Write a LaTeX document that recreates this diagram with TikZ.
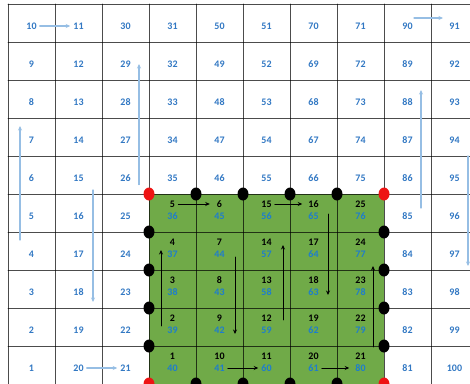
\documentclass[tikz,border=0pt]{standalone}
\usepackage{fontspec}
\setmainfont{Carlito}
\usetikzlibrary{arrows.meta}
\definecolor{cellgreen}{RGB}{112,170,72}
\definecolor{numblue}{RGB}{50,120,195}
\definecolor{greenblue}{RGB}{30,125,205}
\definecolor{pathblue}{RGB}{150,190,228}
\definecolor{dotred}{RGB}{238,20,20}

\begin{document}
\begin{tikzpicture}[x=47pt, y=-38pt, line cap=round, line join=round,
  gridline/.style={black, opacity=0.7, line width=0.8pt},
  num/.style={font=\fontsize{10}{12}\selectfont\bfseries, text=numblue, inner sep=3pt},
  gnum/.style={num, text=black},
  bnum/.style={num, text=greenblue},
  bluepath/.style={draw=pathblue, line width=1.1pt, -{Stealth[length=4.5pt,width=4pt]}},
  blackpath/.style={draw=black, line width=0.9pt, -{Stealth[length=4.5pt,width=4pt]}}]

\clip (-0.1702,-0.1053) rectangle (9.8298,9.9737);

% green block and the grid
\fill[cellgreen] (3,5) rectangle (8,10);
\foreach \i in {0,...,10}
  \draw[gridline] (\i,0) -- (\i,10);
\foreach \j in {0,...,10}
  \draw[gridline] (0,\j) -- (10,\j);

% points on the border of the block
\foreach \p in {(3,5),(8,5),(3,10),(8,10)}
  \fill[dotred] \p ellipse (5.5pt and 6.5pt);
\foreach \i in {4,...,7} {
  \fill (\i,5) ellipse (5.5pt and 6.5pt);
  \fill (\i,10) ellipse (5.5pt and 6.5pt);
}
\foreach \j in {6,...,9} {
  \fill (3,\j) ellipse (5.5pt and 6.5pt);
  \fill (8,\j) ellipse (5.5pt and 6.5pt);
}

% cell numbers
\foreach \c in {0,...,9}
  \foreach \r in {0,...,9} {
    \pgfmathtruncatemacro\v{isodd(\c) ? 10*\c+1+\r : 10*(\c+1)-\r}
    \pgfmathtruncatemacro\ingreen{(\c>2)&&(\c<8)&&(\r>4)}
    \ifnum\ingreen=1
      \pgfmathtruncatemacro\w{isodd(\c-3) ? 5*(\c-3)+1+(\r-5) : 5*(\c-3)+5-(\r-5)}
      \node[gnum] (g\w) at (\c+0.5,\r+0.263) {\w};
      \node[bnum] (n\v) at (\c+0.5,\r+0.579) {\v};
    \else
      \node[num] (n\v) at (\c+0.5,\r+0.579) {\v};
    \fi
  }

% outer path
\draw[bluepath] (n10.east) -- (n11.west);
\draw[bluepath] ([xshift=-11.5pt,yshift=14pt]n4.center) -- ([xshift=-11.5pt,yshift=14pt]n7.center);
\draw[bluepath] ([xshift=14.5pt,yshift=-12pt]n15.center) -- ([xshift=14.5pt,yshift=-10pt]n18.center);
\draw[bluepath] (n20.east) -- (n21.west);
\draw[bluepath] ([xshift=13.5pt]n26.south) -- ([xshift=13.5pt]n29.center);
\draw[bluepath] ([xshift=13.5pt,yshift=8pt]n85.center) -- ([xshift=13.5pt,yshift=12pt]n88.center);
\draw[bluepath] ([xshift=6.5pt,yshift=8pt]n90.center) -- ([xshift=-11.5pt,yshift=8pt]n91.center);
\draw[bluepath] ([xshift=13.5pt,yshift=22pt]n95.center) -- ([xshift=13.5pt,yshift=-12pt]n97.center);

% inner path
\draw[blackpath] (g5.east) -- ([xshift=-4pt]g6.west);
\draw[blackpath] ([xshift=-11.5pt,yshift=-8pt]g2.center) -- ([xshift=-11.5pt,yshift=-8pt]g4.center);
\draw[blackpath] ([xshift=15.5pt,yshift=-15pt]g7.center) -- ([xshift=15.5pt,yshift=-16pt]g9.center);
\draw[blackpath] (n41.east) -- (n60.west);
\draw[blackpath] (g15.east) -- ([xshift=-3pt]g16.west);
\draw[blackpath] ([xshift=16.5pt,yshift=-2pt]g12.center) -- ([xshift=16.5pt,yshift=-3pt]g14.center);
\draw[blackpath] ([xshift=14.5pt,yshift=-10pt]g16.center) -- ([xshift=14.5pt,yshift=-15pt]g18.center);
\draw[blackpath] (n61.east) -- ([xshift=-3pt]n80.west);
\draw[blackpath] ([xshift=12.5pt,yshift=9pt]g21.center) -- ([xshift=12.5pt,yshift=14pt]g23.center);

\end{tikzpicture}
\end{document}
